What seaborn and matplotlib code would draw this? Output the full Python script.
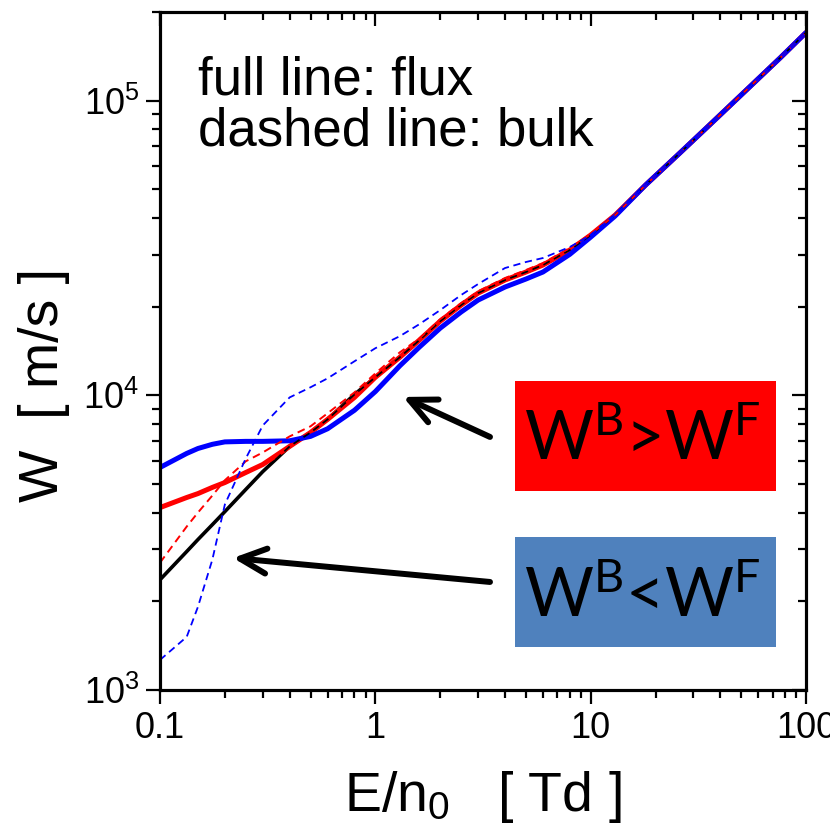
import matplotlib
matplotlib.use("Agg")
import matplotlib.pyplot as plt
import seaborn as sns
from matplotlib.patches import Rectangle
from matplotlib.ticker import FixedLocator, FixedFormatter, LogLocator, NullFormatter

# Reduced field E/n0 [Td]
E = [0.1, 0.133, 0.15, 0.175, 0.2, 0.25, 0.3, 0.4, 0.5, 0.6, 0.8, 1, 1.3, 1.6, 2,
     2.5, 3, 4, 5, 6, 8, 10, 13, 18, 26, 37, 53, 76, 100]

# Flux drift velocities [m/s]
W_flux_black = [2367, 2950, 3240, 3640, 4030, 4790, 5510, 6710, 7480, 8285, 10070,
                11515, 13470, 15390, 17850, 20240, 22230, 24620, 26200, 27680, 31130,
                34990, 40930, 51760, 66530, 84870, 108900, 139900, 170300]
W_flux_red = [4160, 4500, 4640, 4870, 5058, 5470, 5825, 6710, 7480, 8285, 9840,
              11515, 13470, 15390, 17850, 20240, 22230, 24620, 26200, 27680, 31130,
              34990, 40930, 51760, 66530, 84870, 108900, 139900, 170300]
W_flux_blue = [5690, 6350, 6600, 6820, 6950, 6978, 6978, 7010, 7255, 7700, 8900,
               10300, 12600, 14570, 16900, 19170, 21050, 23310, 24810, 26210, 30100,
               34430, 40630, 51760, 66530, 84870, 108900, 139900, 170300]

# Bulk drift velocities [m/s]
W_bulk_black = [2367, 2950, 3240, 3640, 4030, 4790, 5510, 6710, 7480, 8285, 10070,
                11515, 13470, 15390, 17850, 20240, 22230, 24620, 26200, 27680, 31130,
                34990, 40930, 51760, 66530, 84870, 108900, 139900, 170300]
W_bulk_red = [2704, 3585, 4000, 4570, 5150, 5970, 6398, 7255, 7850, 8690, 10235,
              11870, 14000, 15580, 18130, 20560, 22570, 25010, 26620, 28120, 31620,
              35270, 40930, 51760, 66530, 84870, 108900, 139900, 170300]
W_bulk_blue = [1265, 1514, 1915, 2770, 4260, 6100, 7900, 9840, 10650, 11420, 13050,
               14450, 15880, 17430, 19460, 21890, 23860, 27040, 28340, 29240, 31870,
               34990, 40930, 51760, 66530, 84870, 108900, 139900, 170300]

x_ticks = [0.1, 1, 10, 100]
x_ticklabels = ["0.1", "1", "10", "100"]

sns.set_style("ticks")
plt.rcParams["font.family"] = ["Liberation Sans", "DejaVu Sans"]
plt.rcParams["mathtext.default"] = "regular"
plt.rcParams["axes.linewidth"] = 2.2
for key in ["text.color", "axes.labelcolor", "axes.edgecolor",
            "xtick.color", "ytick.color", "xtick.labelcolor", "ytick.labelcolor"]:
    plt.rcParams[key] = "black"

fig = plt.figure(figsize=(8.3, 8.32), dpi=100)
ax = fig.add_axes([0.1928, 0.1707, 0.7783, 0.8149])

dash = (0, (4, 2.6))
curves = [
    (W_flux_black, "black", 2.6, "-"),
    (W_flux_red, "#ff0000", 3.6, "-"),
    (W_flux_blue, "#0000ff", 3.6, "-"),
    (W_bulk_black, "black", 1.3, dash),
    (W_bulk_red, "#ff0000", 1.4, dash),
    (W_bulk_blue, "#0000ff", 1.3, dash),
]
for w, c, lw, ls in curves:
    sns.lineplot(x=E, y=w, ax=ax, color=c, linewidth=lw, linestyle=ls,
                 estimator=None, sort=False)

ax.set_xscale("log")
ax.set_yscale("log")
ax.set_xlim(0.1, 100)
ax.set_ylim(1e3, 2e5)

ax.xaxis.set_major_locator(FixedLocator(x_ticks))
ax.xaxis.set_major_formatter(FixedFormatter(x_ticklabels))
ax.xaxis.set_minor_locator(LogLocator(base=10, subs=range(2, 10)))
ax.xaxis.set_minor_formatter(NullFormatter())
ax.yaxis.set_minor_locator(LogLocator(base=10, subs=range(2, 10)))
ax.yaxis.set_minor_formatter(NullFormatter())

ax.tick_params(which="both", direction="out", width=1.6, labelsize=26, pad=5,
               top=False, right=False)
ax.tick_params(which="major", length=10)
ax.tick_params(which="minor", length=5.5)

# mirrored ticks on top and right point inwards
axt = ax.twiny()
axt.set_xscale("log")
axt.set_xlim(ax.get_xlim())
axt.xaxis.set_minor_locator(LogLocator(base=10, subs=range(2, 10)))
axt.tick_params(which="both", direction="in", width=1.6, labeltop=False)
axt.tick_params(which="major", length=10)
axt.tick_params(which="minor", length=5.5)

axr = ax.twinx()
axr.set_yscale("log")
axr.set_ylim(ax.get_ylim())
axr.yaxis.set_minor_locator(LogLocator(base=10, subs=range(2, 10)))
axr.tick_params(which="both", direction="in", width=1.6, labelright=False)
axr.tick_params(which="major", length=10)
axr.tick_params(which="minor", length=5.5)

ax.set_xlabel(r"E/n$_{\mathregular{0}}$   [ Td ]", fontsize=40, labelpad=17)
ax.set_ylabel("W  [ m/s ]", fontsize=40)
ax.yaxis.set_label_coords(-0.139, 0.45)

ax.text(0.059, 0.8776, "full line: flux", transform=ax.transAxes,
        fontsize=38, ha="left", va="baseline")
ax.text(0.059, 0.8038, "dashed line: bulk", transform=ax.transAxes,
        fontsize=38, ha="left", va="baseline")

ax.add_patch(Rectangle((0.5495, 0.2935), 0.4041, 0.1623, transform=ax.transAxes,
                       facecolor="#ff0000", edgecolor="none", zorder=5))
ax.add_patch(Rectangle((0.5495, 0.0634), 0.4041, 0.1623, transform=ax.transAxes,
                       facecolor="#4f81bd", edgecolor="none", zorder=5))
ax.text(0.747, 0.3392, r"W$^{\mathregular{B}}$>W$^{\mathregular{F}}$",
        transform=ax.transAxes, family=["Lato", "DejaVu Sans"], fontsize=48,
        ha="center", va="baseline", zorder=6)
ax.text(0.747, 0.1077, r"W$^{\mathregular{B}}$<W$^{\mathregular{F}}$",
        transform=ax.transAxes, family=["Lato", "DejaVu Sans"], fontsize=48,
        ha="center", va="baseline", zorder=6)

arrow = dict(arrowstyle="->,head_length=0.95,head_width=0.45", lw=4.3,
             color="black", shrinkA=0, shrinkB=0, mutation_scale=20)
ax.annotate("", xy=(0.3762, 0.4322), xytext=(0.5108, 0.3732),
            xycoords="axes fraction", textcoords="axes fraction", arrowprops=arrow)
ax.annotate("", xy=(0.1130, 0.1947), xytext=(0.5108, 0.1593),
            xycoords="axes fraction", textcoords="axes fraction", arrowprops=arrow)

fig.savefig("out.png", dpi=100)
